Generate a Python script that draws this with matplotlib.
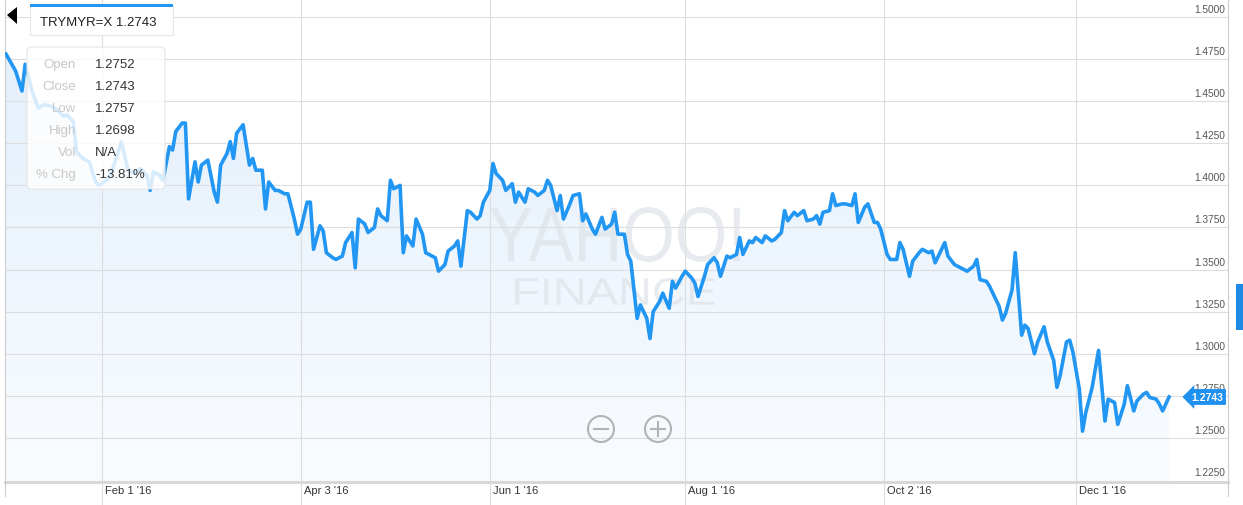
import matplotlib
import numpy as np
import pandas as pd

matplotlib.use("Agg")
import matplotlib.dates as mdates  # noqa: E402
import matplotlib.pyplot as plt  # noqa: E402
from matplotlib import patches, transforms  # noqa: E402
from matplotlib.colors import LinearSegmentedColormap  # noqa: E402
from matplotlib.font_manager import FontProperties  # noqa: E402
from matplotlib.lines import Line2D  # noqa: E402
from matplotlib.textpath import TextPath  # noqa: E402


# days after 2016-01-01 and TRYMYR close
DAY_OFFSETS = [
    1, 4, 6, 7, 9, 11, 13, 15, 17, 19, 20, 22, 23, 25, 27, 29, 30, 33, 34, 37,
    39, 41, 43, 45, 46, 47, 49, 50, 52, 53, 54, 56, 57, 58, 60, 61, 62, 64, 66, 67,
    68, 70, 71, 72, 73, 75, 77, 78, 79, 81, 82, 83, 85, 86, 88, 89, 91, 92, 93, 95,
    96, 97, 99, 100, 101, 103, 104, 106, 107, 109, 110, 111, 113, 114, 116, 117, 118, 120, 121, 122,
    124, 125, 126, 128, 129, 131, 132, 134, 135, 136, 138, 139, 141, 142, 143, 145, 146, 148, 149, 150,
    152, 153, 154, 156, 157, 159, 160, 161, 163, 164, 166, 167, 169, 170, 171, 173, 174, 175, 177, 178,
    180, 181, 182, 184, 185, 187, 188, 190, 191, 192, 194, 195, 196, 198, 199, 201, 202, 203, 205, 206,
    208, 209, 210, 212, 213, 215, 216, 217, 219, 220, 222, 223, 224, 226, 227, 229, 230, 231, 233, 234,
    235, 237, 238, 240, 241, 243, 244, 245, 247, 248, 250, 251, 253, 254, 255, 256, 258, 259, 260, 262,
    263, 265, 266, 267, 269, 270, 272, 273, 274, 276, 277, 279, 280, 281, 283, 284, 286, 287, 289, 290,
    291, 293, 294, 295, 297, 298, 300, 301, 303, 304, 305, 307, 308, 309, 311, 312, 313, 315, 316, 318,
    319, 320, 322, 323, 325, 326, 328, 329, 330, 332, 333, 334, 336, 337, 338, 340, 342, 343, 344, 345,
    347, 348, 350, 351, 353, 354, 356, 357, 358, 360, 361, 362, 364,
]
CLOSE = [
    1.478, 1.468, 1.456, 1.472, 1.457, 1.446, 1.448, 1.447, 1.445, 1.441, 1.442, 1.438, 1.420, 1.416, 1.414, 1.402, 1.400, 1.404, 1.408, 1.426,
    1.410, 1.407, 1.410, 1.406, 1.397, 1.408, 1.406, 1.403, 1.423, 1.421, 1.432, 1.437, 1.437, 1.392, 1.414, 1.402, 1.412, 1.415, 1.396, 1.390,
    1.412, 1.419, 1.426, 1.416, 1.431, 1.436, 1.412, 1.416, 1.409, 1.409, 1.386, 1.402, 1.397, 1.397, 1.395, 1.395, 1.380, 1.371, 1.374, 1.390,
    1.390, 1.362, 1.376, 1.373, 1.360, 1.357, 1.356, 1.358, 1.366, 1.372, 1.351, 1.380, 1.377, 1.372, 1.375, 1.386, 1.382, 1.379, 1.403, 1.398,
    1.400, 1.360, 1.370, 1.364, 1.380, 1.371, 1.360, 1.358, 1.357, 1.349, 1.353, 1.361, 1.364, 1.367, 1.352, 1.385, 1.384, 1.380, 1.382, 1.390,
    1.397, 1.413, 1.407, 1.403, 1.397, 1.401, 1.390, 1.396, 1.390, 1.398, 1.396, 1.394, 1.397, 1.403, 1.400, 1.385, 1.394, 1.380, 1.389, 1.394,
    1.395, 1.379, 1.383, 1.374, 1.371, 1.381, 1.374, 1.377, 1.384, 1.371, 1.371, 1.359, 1.355, 1.321, 1.329, 1.321, 1.309, 1.325, 1.331, 1.336,
    1.327, 1.343, 1.339, 1.346, 1.349, 1.345, 1.342, 1.334, 1.346, 1.353, 1.357, 1.354, 1.346, 1.358, 1.357, 1.359, 1.369, 1.359, 1.367, 1.366,
    1.369, 1.366, 1.370, 1.367, 1.368, 1.372, 1.385, 1.379, 1.384, 1.382, 1.385, 1.379, 1.380, 1.382, 1.377, 1.384, 1.385, 1.395, 1.388, 1.389,
    1.389, 1.388, 1.395, 1.378, 1.387, 1.389, 1.378, 1.378, 1.374, 1.359, 1.356, 1.356, 1.366, 1.362, 1.346, 1.355, 1.360, 1.362, 1.360, 1.361,
    1.354, 1.362, 1.366, 1.358, 1.353, 1.352, 1.350, 1.349, 1.352, 1.356, 1.344, 1.343, 1.340, 1.336, 1.328, 1.320, 1.324, 1.338, 1.360, 1.311,
    1.317, 1.315, 1.300, 1.307, 1.316, 1.307, 1.296, 1.280, 1.287, 1.307, 1.308, 1.301, 1.279, 1.254, 1.265, 1.280, 1.302, 1.281, 1.260, 1.273,
    1.271, 1.258, 1.270, 1.281, 1.266, 1.272, 1.276, 1.277, 1.274, 1.273, 1.270, 1.266, 1.2743,
]
MONTH_TICKS = ["2016-02-01", "2016-04-03", "2016-06-01", "2016-08-01", "2016-10-02", "2016-12-01"]
MONTH_LABELS = ["Feb 1 '16", "Apr 3 '16", "Jun 1 '16", "Aug 1 '16", "Oct 2 '16", "Dec 1 '16"]
PRICE_TICKS = [1.2250, 1.2500, 1.2750, 1.3000, 1.3250, 1.3500, 1.3750, 1.4000, 1.4250, 1.4500, 1.4750, 1.5000]
TOOLTIP_KEYS = ["Open", "Close", "Low", "High", "Vol", "% Chg"]
TOOLTIP_VALUES = ["1.2752", "1.2743", "1.2757", "1.2698", "N/A", "-13.81%"]
SYMBOL = "TRYMYR=X"
LAST_PRICE = "1.2743"

W, H = 1243, 506
BLUE = "#2196f3"
GRID = "#dddddd"
plt.rcParams["font.family"] = ["Liberation Sans", "DejaVu Sans"]

start = pd.Timestamp("2016-01-01")
dates = start + pd.to_timedelta(DAY_OFFSETS, unit="D")
xs = mdates.date2num(dates)
close = np.asarray(CLOSE)
month_x = mdates.date2num(pd.to_datetime(MONTH_TICKS))
x0 = mdates.date2num(start)
xlim = (x0 + 0.7, x0 + 382.4)
ylim = (1.2238, 1.5107)

fig = plt.figure(figsize=(W / 100, H / 100), dpi=100, facecolor="white")
ax = fig.add_axes([5 / W, (H - 483) / H, 1223 / W, 483 / H])
ident = transforms.IdentityTransform()

# gradient area under the line
cmap = LinearSegmentedColormap.from_list("area", ["#f9fcff", "#e1eefb"])
grad = np.linspace(0, 1, 256).reshape(-1, 1)
im = ax.imshow(grad, cmap=cmap, origin="lower", aspect="auto",
               extent=[xs[0], xs[-1], ylim[0], ylim[1]], zorder=0.5)
area = ax.fill_between(xs, close, ylim[0], facecolor="none", edgecolor="none")
im.set_clip_path(area.get_paths()[0], transform=ax.transData)

for v in PRICE_TICKS[1:]:
    ax.axhline(v, color=GRID, lw=0.8, zorder=1)
for mx in month_x:
    ax.axvline(mx, color=GRID, lw=0.8, zorder=1)

# watermark, squeezed to the size it has on the chart
prop = FontProperties(family="Liberation Sans")
for word, left, base, width, height in [("YAHOO!", 490, 263, 250, 55), ("FINANCE", 515, 306, 200, 27)]:
    tp = TextPath((0, 0), word, size=100, prop=prop)
    ext = tp.get_extents()
    tr = (transforms.Affine2D().translate(-ext.x0, -ext.y0)
          .scale(width / ext.width, height / ext.height).translate(left, H - base))
    ax.add_artist(patches.PathPatch(tp, transform=tr, fc="#e0e4e9", ec="none", alpha=0.75, zorder=2))

ax.plot(xs, close, color=BLUE, lw=2.6, zorder=3, solid_joinstyle="round")

ax.set_xlim(*xlim)
ax.set_ylim(*ylim)
ax.set_xticks(month_x)
ax.set_yticks([])
ax.tick_params(axis="x", length=17, width=0.8, color=GRID, labelbottom=False)
ax.spines["top"].set_visible(False)
ax.spines["bottom"].set_color("#d8d8d8")
ax.spines["bottom"].set_linewidth(2.2)
for side in ("left", "right"):
    ax.spines[side].set_color("#cccccc")
    ax.spines[side].set_linewidth(0.8)
ax.set_facecolor("white")

for mx, lab in zip(month_x, MONTH_LABELS):
    ax.annotate(lab, xy=(mx, 0), xycoords=("data", "axes fraction"), xytext=(3, -8),
                textcoords="offset pixels", ha="left", va="center", fontsize=8, color="#333333",
                annotation_clip=False)
for v in PRICE_TICKS:
    ax.annotate(f"{v:.4f}", xy=(1, v), xycoords=("axes fraction", "data"), xytext=(-3, 3),
                textcoords="offset pixels", ha="right", va="bottom", fontsize=7.3, color="#555555",
                annotation_clip=False)

ax.annotate(LAST_PRICE, xy=(1, close[-1]), xycoords=("axes fraction", "data"), xytext=(-5, 0),
            textcoords="offset pixels", ha="right", va="center", fontsize=7.5, fontweight="bold",
            color="white", annotation_clip=False, zorder=6,
            bbox=dict(boxstyle="larrow,pad=0.28", fc="#1e90f0", ec="none"))

# border lines continue under the axis like ticks
for bx in (5, 1228):
    fig.add_artist(Line2D([bx, bx], [H - 483, H - 497], color="#cccccc", lw=0.8, transform=ident))

# symbol box with blue top bar
fig.add_artist(patches.Rectangle((30, H - 36), 143, 29, fc="white", ec="#e6e6e6", lw=0.8, transform=ident))
fig.add_artist(patches.Rectangle((30, H - 8), 143, 3, fc=BLUE, ec="none", transform=ident))
fig.text(40, H - 23, f"{SYMBOL} {LAST_PRICE}", transform=ident, ha="left", va="center",
         fontsize=9.5, color="#222222")
fig.add_artist(patches.Polygon([(7, H - 16), (17, H - 8), (17, H - 25)], closed=True,
                               fc="black", ec="none", transform=ident))

# hover tooltip
fig.add_artist(patches.FancyBboxPatch((27, H - 190), 138, 142, boxstyle="round,pad=0,rounding_size=5",
                                      fc=(1, 1, 1, 0.82), ec="#e6e6e6", lw=0.8, transform=ident))
for i, (key, val) in enumerate(zip(TOOLTIP_KEYS, TOOLTIP_VALUES)):
    y = H - (65 + 22 * i)
    fig.text(76, y, key, transform=ident, ha="right", va="center", fontsize=9.5, color="#c8c8c8")
    fig.text(95, y, val, transform=ident, ha="left", va="center", fontsize=9.5, color="#333333")

# zoom buttons
for cx, plus in [(601, False), (658, True)]:
    fig.add_artist(patches.Circle((cx, H - 430), 13, fill=False, ec="#b3b3b3", lw=1.5, transform=ident))
    fig.add_artist(Line2D([cx - 7, cx + 7], [H - 430, H - 430], color="#b3b3b3", lw=1.5, transform=ident))
    if plus:
        fig.add_artist(Line2D([cx, cx], [H - 437, H - 423], color="#b3b3b3", lw=1.5, transform=ident))

# blue scroll handle on the right edge
fig.add_artist(patches.Rectangle((1236, H - 331), 7, 46, fc="#1e88e5", ec="none", transform=ident))

fig.savefig("out.png", dpi=100, facecolor="white")
